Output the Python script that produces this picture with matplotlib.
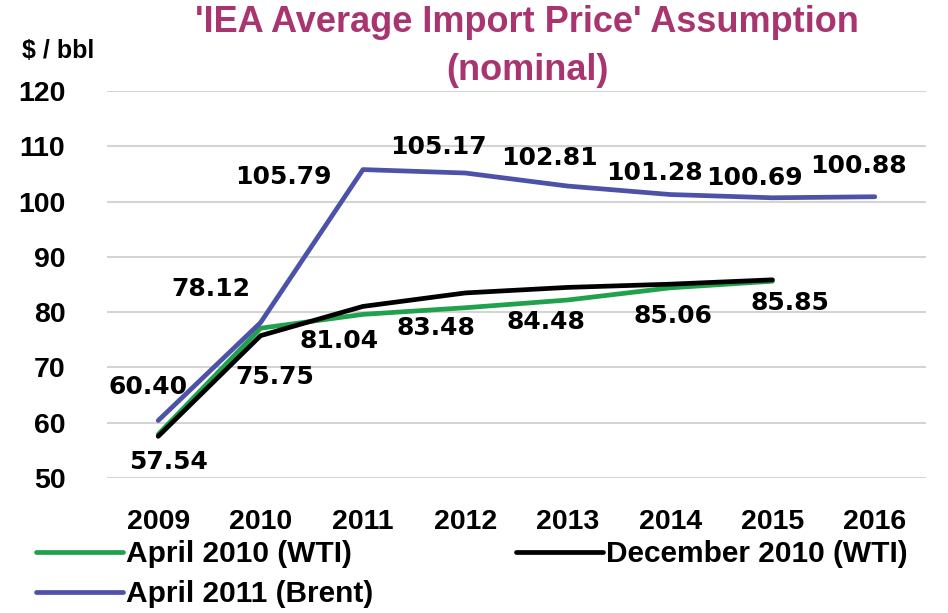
import matplotlib.pyplot as plt

# --- Data ---
years = ['2009', '2010', '2011', '2012', '2013', '2014', '2015', '2016']
april2010_wti = [57.9, 77.1, 79.6, 80.8, 82.2, 84.4, 85.6]
dec2010_wti = [57.54, 75.75, 81.04, 83.48, 84.48, 85.06, 85.85]
april2011_brent = [60.40, 78.12, 105.79, 105.17, 102.81, 101.28, 100.69, 100.88]

# label offsets (pixels) relative to each point
brent_offsets = [(-10, 34), (-50, 34), (-80, -7), (-27, 26), (-18, 28), (-16, 22), (-18, 20), (-16, 31)]
dec_offsets = [(10, -26), (14, -41), (-24, -35), (-29, -35), (-22, -35), (3, -32), (17, -23)]

title_color = '#A8356F'
green = '#1FA24B'
blue = '#4B52A7'

fig = plt.figure(figsize=(9.48, 6.13), dpi=100)
ax = fig.add_axes([0.1129, 0.2202, 0.8639, 0.6313])

x = list(range(len(years)))
l1, = ax.plot(x[:len(april2010_wti)], april2010_wti, color=green, lw=3.4,
              solid_capstyle='round', label='April 2010 (WTI)', zorder=3)
l2, = ax.plot(x[:len(dec2010_wti)], dec2010_wti, color='black', lw=3.4,
              solid_capstyle='round', label='December 2010 (WTI)', zorder=4)
l3, = ax.plot(x, april2011_brent, color=blue, lw=3.4,
              solid_capstyle='round', label='April 2011 (Brent)', zorder=5)

lab_font = dict(family='DejaVu Sans', weight='bold', size=18, color='black')
for i, v in enumerate(april2011_brent):
    ax.annotate(f'{v:.2f}', (i, v), xytext=brent_offsets[i], textcoords='offset pixels',
                ha='center', va='center', **lab_font)
for i, v in enumerate(dec2010_wti):
    ax.annotate(f'{v:.2f}', (i, v), xytext=dec_offsets[i], textcoords='offset pixels',
                ha='center', va='center', **lab_font)

ax.set_xlim(-0.5, len(years) - 0.5)
ax.set_ylim(50, 120)
ax.set_yticks(range(50, 121, 10))
ax.set_xticks(x)
ax.set_xticklabels(years)
ax.grid(axis='y', color='#D4D4D4', lw=1.5)
ax.set_axisbelow(True)
for s in ax.spines.values():
    s.set_visible(False)
ax.tick_params(length=0, labelsize=20.5)
ax.tick_params(axis='y', pad=30)
ax.tick_params(axis='x', pad=22)
for t in ax.get_xticklabels() + ax.get_yticklabels():
    t.set_fontfamily('Liberation Sans')
    t.set_fontweight('bold')

fig.text(0.556, 0.963, "'IEA Average Import Price' Assumption", ha='center', va='center',
         color=title_color, fontsize=26, fontweight='bold', family='Liberation Sans')
fig.text(0.556, 0.885, "(nominal)", ha='center', va='center',
         color=title_color, fontsize=26, fontweight='bold', family='Liberation Sans')
fig.text(0.061, 0.917, '$ / bbl', ha='center', va='center', fontsize=18,
         fontweight='bold', family='Liberation Sans')

fig.legend([l1, l3, l2], ['April 2010 (WTI)', 'April 2011 (Brent)', 'December 2010 (WTI)'],
           ncol=2, loc='upper left', bbox_to_anchor=(0.038, 0.119), frameon=False,
           prop=dict(family='Liberation Sans', weight='bold', size=21.5),
           handlelength=2.9, handletextpad=0.1, columnspacing=4.8,
           labelspacing=0.4, borderaxespad=0, borderpad=0)

fig.savefig('out.png', dpi=100)
